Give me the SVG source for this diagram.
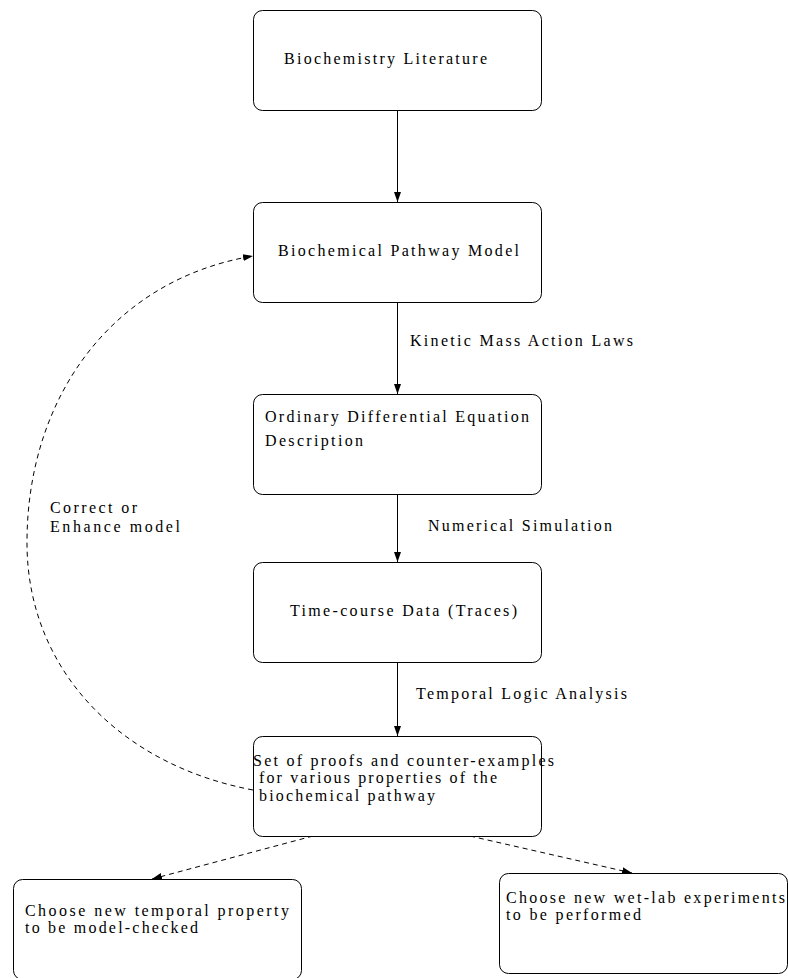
<svg xmlns="http://www.w3.org/2000/svg" width="788" height="978" viewBox="0 0 788 978">
  <style>
    .box { fill: #ffffff; stroke: #000000; stroke-width: 1; }
    .lbl { font-family: "Liberation Serif", "DejaVu Serif", serif; font-size: 16px; fill: #000000; }
    .edge { fill: none; stroke: #000000; stroke-width: 1; }
    .dash { stroke-dasharray: 5 4; }
  </style>
  <defs>
    <marker id="arrow" viewBox="0 0 10 10" refX="10" refY="5" markerWidth="10" markerHeight="10" markerUnits="userSpaceOnUse" orient="auto">
      <path d="M0,1.5 L10,5 L0,8.5 Z" fill="#000000"/>
    </marker>
  </defs>
  <rect width="788" height="978" fill="#ffffff"/>

  <g id="connectors">
    <line class="edge" x1="397.5" y1="110" x2="397.5" y2="202" marker-end="url(#arrow)"/>
    <line class="edge" x1="397.5" y1="302" x2="397.5" y2="394" marker-end="url(#arrow)"/>
    <line class="edge" x1="397.5" y1="494" x2="397.5" y2="562" marker-end="url(#arrow)"/>
    <line class="edge" x1="397.5" y1="662" x2="397.5" y2="736" marker-end="url(#arrow)"/>
    <path class="edge dash" d="M253,790 C120,765 28,670 27,545 C26,400 110,280 253,256" marker-end="url(#arrow)"/>
    <line class="edge dash" x1="313" y1="836" x2="152" y2="879" marker-end="url(#arrow)"/>
    <line class="edge dash" x1="470" y1="836" x2="632" y2="873" marker-end="url(#arrow)"/>
    <text class="lbl" x="410" y="346" textLength="223" lengthAdjust="spacing">Kinetic Mass Action Laws</text>
    <text class="lbl" x="428" y="531" textLength="184" lengthAdjust="spacing">Numerical Simulation</text>
    <text class="lbl" x="416" y="699" textLength="211" lengthAdjust="spacing">Temporal Logic Analysis</text>
    <text class="lbl" x="50" y="513" textLength="87" lengthAdjust="spacing">Correct or</text>
    <text class="lbl" x="50" y="532" textLength="130" lengthAdjust="spacing">Enhance model</text>
  </g>

  <g id="literature">
    <rect class="box" x="253.5" y="10.5" width="288" height="100" rx="9"/>
    <text class="lbl" x="284" y="64" textLength="203" lengthAdjust="spacing">Biochemistry Literature</text>
  </g>

  <g id="pathway-model">
    <rect class="box" x="253.5" y="202.5" width="288" height="100" rx="9"/>
    <text class="lbl" x="278" y="256" textLength="241" lengthAdjust="spacing">Biochemical Pathway Model</text>
  </g>

  <g id="ode">
    <rect class="box" x="253.5" y="394.5" width="288" height="100" rx="9"/>
    <text class="lbl" x="265" y="422" textLength="264" lengthAdjust="spacing">Ordinary Differential Equation</text>
    <text class="lbl" x="265" y="446" textLength="98" lengthAdjust="spacing">Description</text>
  </g>

  <g id="time-course">
    <rect class="box" x="253.5" y="562.5" width="288" height="100" rx="9"/>
    <text class="lbl" x="290" y="616" textLength="227" lengthAdjust="spacing">Time-course Data (Traces)</text>
  </g>

  <g id="proofs">
    <rect class="box" x="253.5" y="736.5" width="288" height="100" rx="9"/>
    <text class="lbl" x="253" y="766" textLength="301" lengthAdjust="spacing">Set of proofs and counter-examples</text>
    <text class="lbl" x="259" y="783" textLength="238" lengthAdjust="spacing">for various properties of the</text>
    <text class="lbl" x="259" y="801" textLength="176" lengthAdjust="spacing">biochemical pathway</text>
  </g>

  <g id="temporal-property">
    <rect class="box" x="13.5" y="879.5" width="288" height="100" rx="9"/>
    <text class="lbl" x="25" y="916" textLength="264" lengthAdjust="spacing">Choose new temporal property</text>
    <text class="lbl" x="25" y="933" textLength="173" lengthAdjust="spacing">to be model-checked</text>
  </g>

  <g id="wet-lab">
    <rect class="box" x="499.5" y="873.5" width="288" height="100" rx="9"/>
    <text class="lbl" x="506" y="903" textLength="279" lengthAdjust="spacing">Choose new wet-lab experiments</text>
    <text class="lbl" x="506" y="920" textLength="135" lengthAdjust="spacing">to be performed</text>
  </g>
</svg>
